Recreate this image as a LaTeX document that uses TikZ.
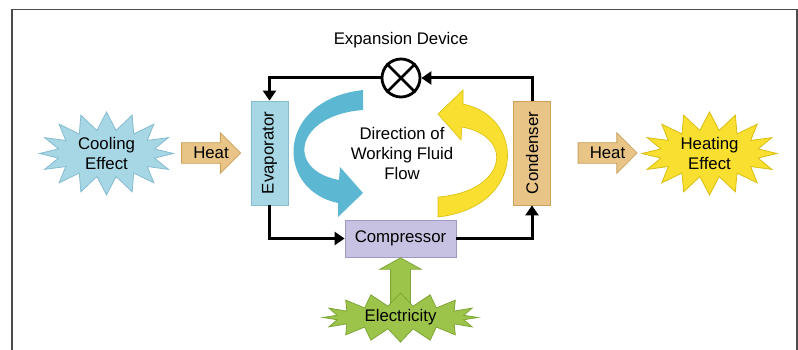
\documentclass[tikz,border=0pt]{standalone}
\usepackage{fontspec}
\setmainfont{Liberation Sans}
\usepackage{tikz}
\usetikzlibrary{arrows.meta, shapes, positioning, calc}

\definecolor{coolblue}{HTML}{A7D7E5}
\definecolor{coolline}{HTML}{86BCD0}
\definecolor{heattan}{HTML}{E8C487}
\definecolor{tanline}{HTML}{C9A25E}
\definecolor{complav}{HTML}{C8C2E2}
\definecolor{lavline}{HTML}{9E98C4}
\definecolor{flowblue}{HTML}{5BB7D2}
\definecolor{hotyellow}{HTML}{F8DF30}
\definecolor{yellowline}{HTML}{D9BD10}
\definecolor{elecgreen}{HTML}{9CC44A}
\definecolor{greenline}{HTML}{7EA636}

\tikzset{
  hx/.style={rectangle, line width=0.8pt, minimum width=37pt, minimum height=104pt,
             inner sep=0pt},
  burst/.style={starburst, starburst points=16, starburst point height=18pt,
                random starburst=0, line width=0.8pt, align=center, inner sep=0pt},
  heatarrow/.style={single arrow, fill=heattan, draw=tanline, line width=0.8pt,
                    minimum height=59pt, single arrow head extend=10pt,
                    inner xsep=0pt, inner ysep=4pt},
  powerarrow/.style={single arrow, shape border rotate=90, fill=elecgreen,
                     draw=greenline, line width=0.8pt, minimum height=48pt,
                     single arrow head extend=10.5pt,
                     single arrow tip angle=122, inner sep=9.5pt},
  valve/.style={circle, draw, line width=2.8pt, minimum size=38pt, inner sep=0pt},
  pipe/.style={line width=3pt},
  flow/.style={pipe, -{Triangle[length=10pt,width=13pt]}},
  turn/.pic={
    \path[pic actions] (-37.5,-63.5) -- (-37.5,-43.5)
      .. controls (-105.5,-38.5) and (-115.5,16.5) .. (-61.5,26.5)
      -- (-60.5,13.5) -- (-37.5,39.5) -- (-62.5,63.5) -- (-62.5,49.5)
      .. controls (-125.5,36.5) and (-125.5,-53.5) .. cycle;
  }
}

\begin{document}
\begin{tikzpicture}[x=1pt, y=-1pt, font=\fontsize{16.8}{20}\selectfont]
  \useasboundingbox (0,0) rectangle (798,350);
  \draw[line width=1.2pt, black!70] (12,350) -- (12,9.5) -- (797,9.5) -- (797,350);

  % working fluid direction
  \pic[fill=flowblue] (blueturn) at (400.5,153.5) {turn};
  \pic[fill=hotyellow, draw=yellowline, line width=0.6pt, rotate=180] (yellowturn) at (400.5,153.5) {turn};
  \node[align=center] (dir) at (402,153) {Direction of\\Working Fluid\\Flow};

  % cycle
  \node[hx, fill=coolblue, draw=coolline] (evap) at (269.5,153)
    {\rotatebox{90}{Evaporator}};
  \node[hx, fill=heattan, draw=tanline] (cond) at (532,153)
    {\rotatebox{90}{Condenser}};
  \node[rectangle, fill=complav, draw=lavline, line width=0.8pt,
        minimum width=111pt, minimum height=37pt] (comp) at (400.5,238.5) {Compressor};
  \node[valve] (valve) at (401,78) {};
  \draw[line width=2.8pt] (valve.north west) -- (valve.south east)
                          (valve.north east) -- (valve.south west);
  \node (vlabel) at (401,40) {Expansion Device};

  \draw[flow] (valve.west) -| (evap.north);
  \draw[flow] (evap.south) |- (comp.west);
  \draw[flow] (comp.east) -| (cond.south);
  \draw[flow] (cond.north) |- (valve.east);

  % heat in and out
  \node[burst, fill=coolblue, draw=coolline, minimum width=134pt, minimum height=83pt]
    (cool) at (106.5,153.5) {Cooling\\Effect};
  \node[heatarrow] (heatin) at (206,153) {\hspace{10pt}Heat};
  \node[heatarrow] (heatout) at (602.5,153) {\hspace{10pt}Heat};
  \node[burst, fill=hotyellow, draw=yellowline, minimum width=135pt, minimum height=83pt]
    (heating) at (709.5,153.5) {Heating\\Effect};

  % power
  \node[powerarrow, anchor=tip] (power) at (comp.south) {};
  \node[burst, fill=elecgreen, draw=greenline, starburst point height=13pt,
        minimum width=155pt, minimum height=49pt] (elec) at (400.5,317.5) {Electricity};
\end{tikzpicture}
\end{document}
